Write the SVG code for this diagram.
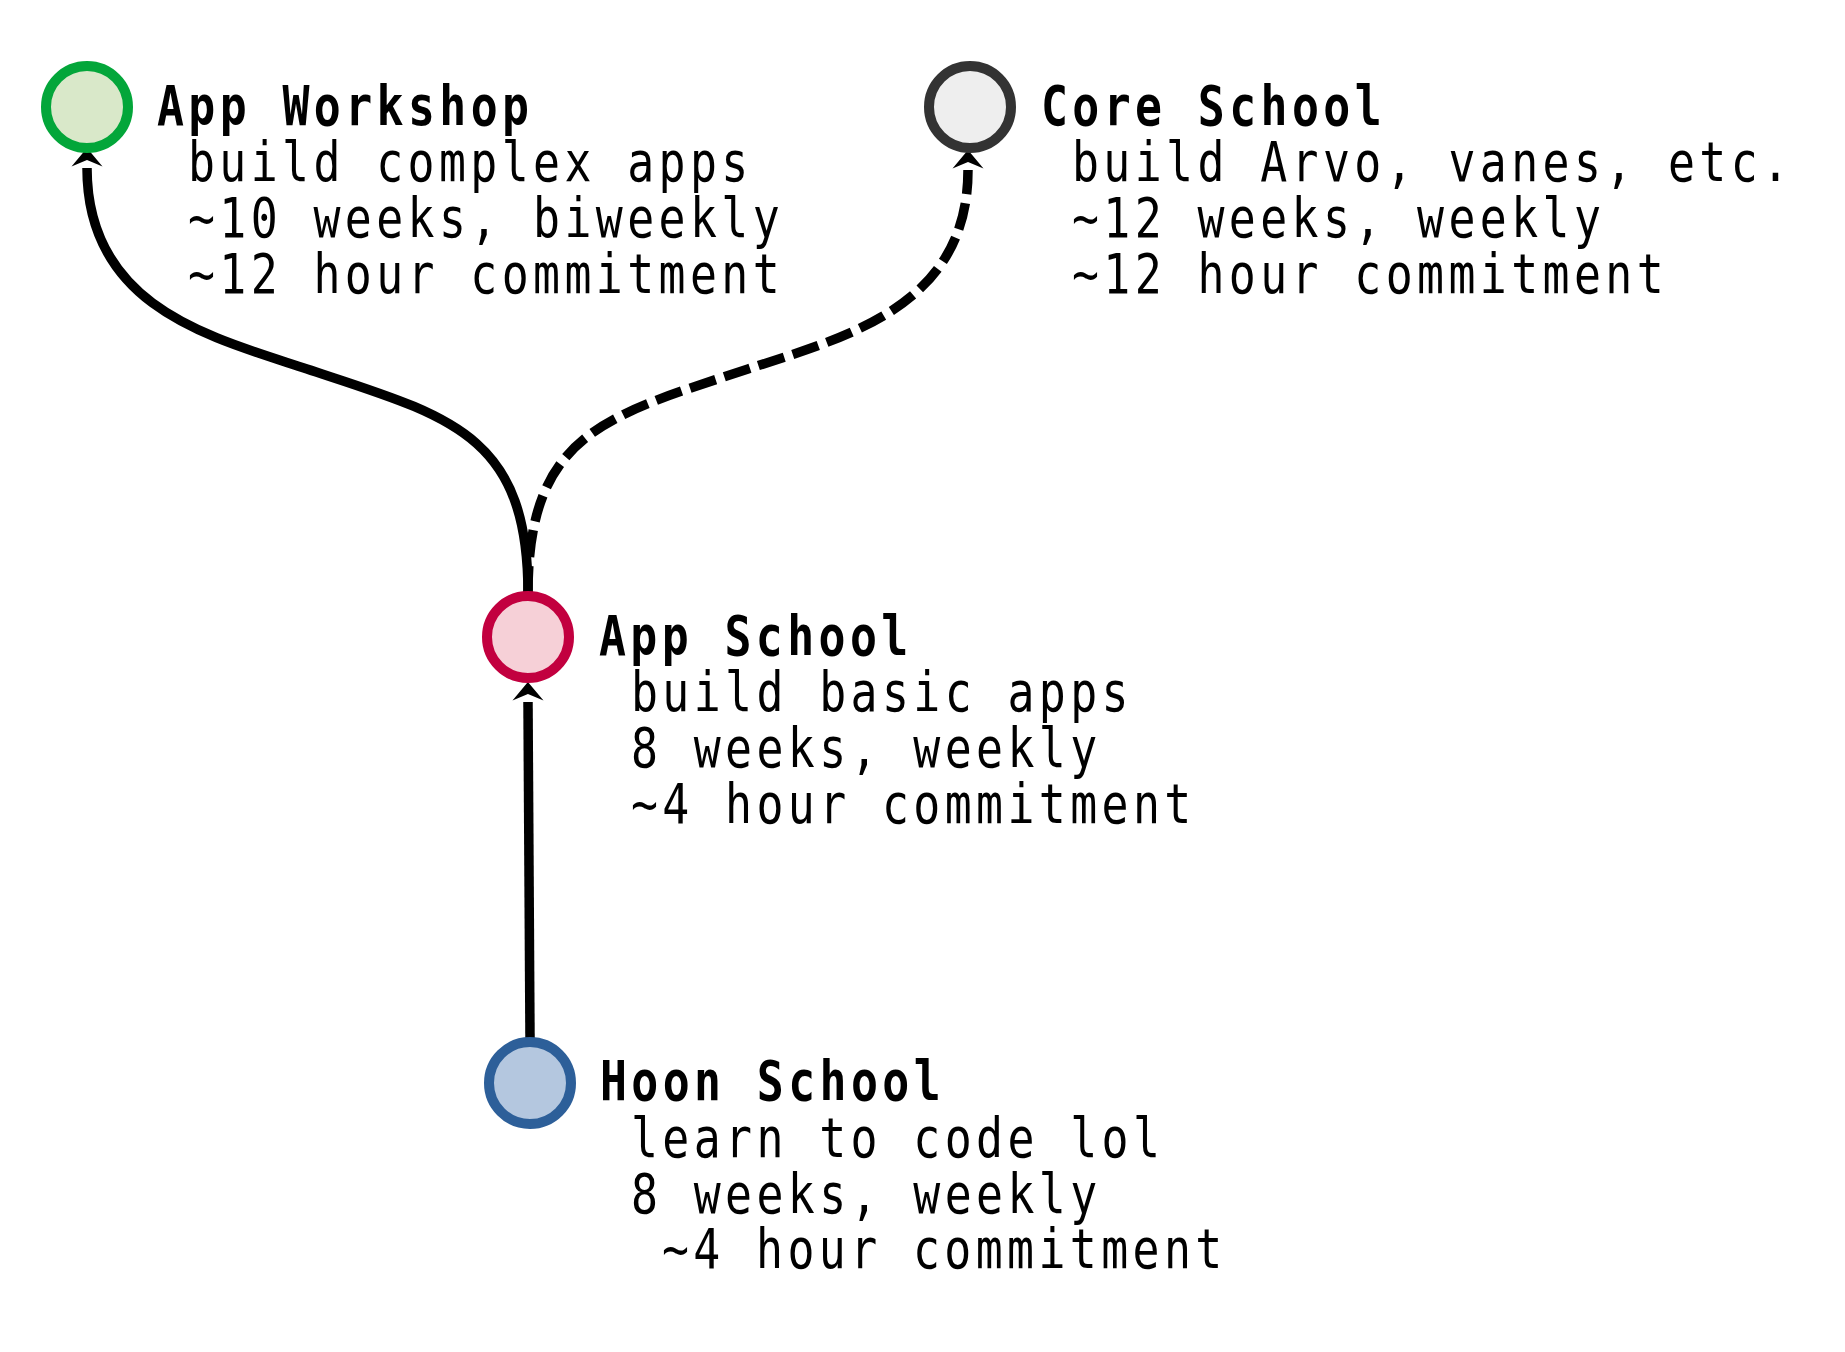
<svg xmlns="http://www.w3.org/2000/svg" width="1845" height="1352" viewBox="0 0 1845 1352">
<style>
.t{font-family:"DejaVu Sans Mono","Liberation Mono",monospace;font-size:56px;letter-spacing:5.5px;fill:#000}
.b{font-weight:bold}
.node circle{stroke-width:10}
.edge{fill:none;stroke:#000;stroke-width:9.5}
.dash{stroke-dasharray:27 9}
</style>
<defs>
<marker id="arr" markerUnits="userSpaceOnUse" viewBox="-2 -17 24 34" markerWidth="24" markerHeight="34" refX="0" refY="0" orient="auto">
<path d="M20,0 L1.5,-15.5 L8,0 L1.5,15.5 Z" fill="#000"/>
</marker>
</defs>
<rect width="1845" height="1352" fill="#fff"/>
<g id="connectors">
<path class="edge" d="M530,1038 L528,702" marker-end="url(#arr)"/>
<path class="edge" d="M528,593 C528,433 449,416 307,369 C212,337.5 87,308 87,168" marker-end="url(#arr)"/>
<path class="edge dash" d="M528,593 C528,433 606,416 748,369 C843,337.5 968,308 968,170" marker-end="url(#arr)"/>
</g>
<g id="app-workshop" class="node">
<circle cx="87" cy="107" r="41" fill="#d9e8c9" stroke="#03a63a"/>
<text class="t b" transform="translate(157,125) scale(0.8,1)">App Workshop</text>
<text class="t" transform="translate(188,181) scale(0.8,1)">build complex apps</text>
<text class="t" transform="translate(188,237) scale(0.8,1)">~10 weeks, biweekly</text>
<text class="t" transform="translate(188,293) scale(0.8,1)">~12 hour commitment</text>
</g>
<g id="core-school" class="node">
<circle cx="970" cy="107" r="41" fill="#eeeeee" stroke="#333333"/>
<text class="t b" transform="translate(1041,125) scale(0.8,1)">Core School</text>
<text class="t" transform="translate(1072,181) scale(0.8,1)">build Arvo, vanes, etc.</text>
<text class="t" transform="translate(1072,237) scale(0.8,1)">~12 weeks, weekly</text>
<text class="t" transform="translate(1072,293) scale(0.8,1)">~12 hour commitment</text>
</g>
<g id="app-school" class="node">
<circle cx="528" cy="637" r="41" fill="#f6d0d7" stroke="#c2003f"/>
<text class="t b" transform="translate(599,655) scale(0.8,1)">App School</text>
<text class="t" transform="translate(631,711) scale(0.8,1)">build basic apps</text>
<text class="t" transform="translate(631,767) scale(0.8,1)">8 weeks, weekly</text>
<text class="t" transform="translate(631,823) scale(0.8,1)">~4 hour commitment</text>
</g>
<g id="hoon-school" class="node">
<circle cx="530" cy="1083" r="41" fill="#b4c7df" stroke="#2d5f99"/>
<text class="t b" transform="translate(600,1100) scale(0.8,1)">Hoon School</text>
<text class="t" transform="translate(631,1157) scale(0.8,1)">learn to code lol</text>
<text class="t" transform="translate(631,1213) scale(0.8,1)">8 weeks, weekly</text>
<text class="t" transform="translate(662,1268) scale(0.8,1)">~4 hour commitment</text>
</g>
</svg>
